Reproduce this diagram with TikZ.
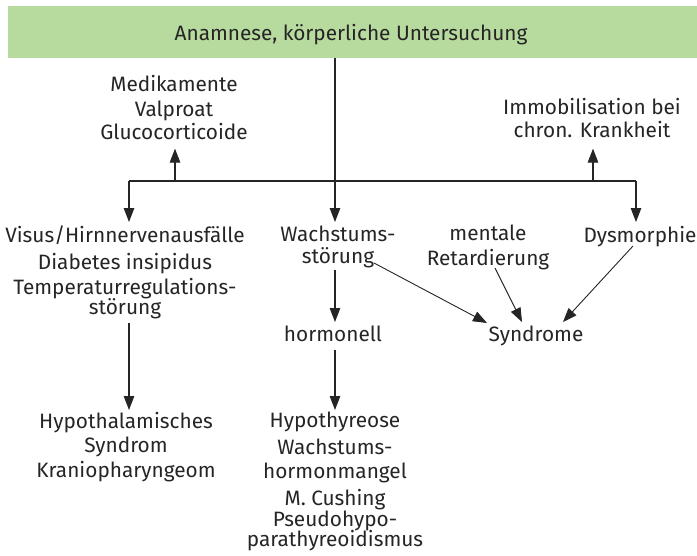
\documentclass[tikz,border=0pt]{standalone}
\usepackage{fontspec}
\setmainfont{Fira Sans}
\usetikzlibrary{arrows.meta,calc}
\definecolor{headgreen}{RGB}{183,219,159}
\definecolor{ink}{RGB}{38,36,37}
\begin{document}
\begin{tikzpicture}[x=1pt,y=-1pt,
  every node/.style={font=\fontsize{20.8}{22}\selectfont, text=ink, inner sep=0pt, align=center},
  % fixed first-line height and last-line depth, so anchors sit at known distances from the baselines
  block/.style={anchor=north, execute at begin node={\rule{0pt}{17pt}}, execute at end node={\rule[-6pt]{0pt}{6pt}}},
  conn/.style={draw=ink, line width=1.2pt},
  arr/.style={conn, -{Triangle[length=14pt,width=10.5pt]}},
  slant/.style={draw=ink, line width=0.9pt, -{Triangle[length=14pt,width=10.5pt]}}]
\useasboundingbox (0,0) rectangle (697,555);
% header bar
\fill[headgreen] (8,6) rectangle (697,58);
\node[anchor=base] (title) at (351,40) {Anamnese, körperliche Untersuchung};
\coordinate (hdr) at (335,58);
% branching bar
\coordinate (trunk) at (335,181);
\coordinate (barL) at (129,181);
\coordinate (barR) at (636,181);
\coordinate (upL) at (175,181);
\coordinate (upR) at (593,181);
% upper side blocks
\node[block] (med) at (174,75) {Medikamente\\[3pt]Valproat\\[1pt]Glucocorticoide};
\node[block] (immo) at (592,98) {Immobilisation bei\\[1pt]chron. Krankheit};
% second row
\node[block] (visus) at (125,226) {Visus/Hirnnervenausfälle\\[5pt]Diabetes insipidus\\[3pt]Temperaturregulations-\\[-2pt]störung};
\node[block] (wachs) at (338,226) {Wachstums-\\störung};
\node[block] (ment) at (488,225) {mentale\\[3pt]Retardierung};
\node[block] (dysm) at (640,225) {Dysmorphie};
% third row
\node[block] (horm) at (333,324) {hormonell};
\node[block] (syn) at (536,324) {Syndrome};
% bottom row
\node[block] (hypo) at (126,412) {Hypothalamisches\\[2pt]Syndrom\\[3pt]Kraniopharyngeom};
\node[block] (hythy) at (335,412) {Hypothyreose\\[5pt]Wachstums-\\[2pt]hormonmangel\\[5pt]M. Cushing\\[-1pt]Pseudohypo-\\[-2pt]parathyreoidismus};
% connectors
\draw[conn] (hdr) -- (trunk);
\draw[conn] (barL) -- (barR);
\draw[arr] (trunk) -- ($(trunk |- wachs.north)+(0,-4)$);
\draw[arr] (barL) -- ($(barL |- visus.north)+(0,-4)$);
\draw[arr] (barR) -- ($(barR |- dysm.north)+(0,-3)$);
\draw[arr] (upL) -- ($(upL |- med.south)+(0,3)$);
\draw[arr] (upR) -- ($(upR |- immo.south)+(0,5)$);
\draw[arr] (trunk |- wachs.south) -- ($(trunk |- horm.north)+(0,-2)$);
\draw[arr] ($(barL |- visus.south)+(0,2)$) -- ($(barL |- hypo.north)+(0,-2)$);
\draw[arr] ($(trunk |- horm.south)+(0,3)$) -- ($(trunk |- hythy.north)+(0,-2)$);
\draw[slant] ($(wachs.north)+(36,37)$) -- ($(syn.north)+(-49,-1)$);
\draw[slant] ($(ment.north)+(7,43)$) -- ($(syn.north)+(-14,-2)$);
\draw[slant] ($(dysm.north)+(-7,21)$) -- ($(syn.north)+(27,-2)$);
\end{tikzpicture}
\end{document}
